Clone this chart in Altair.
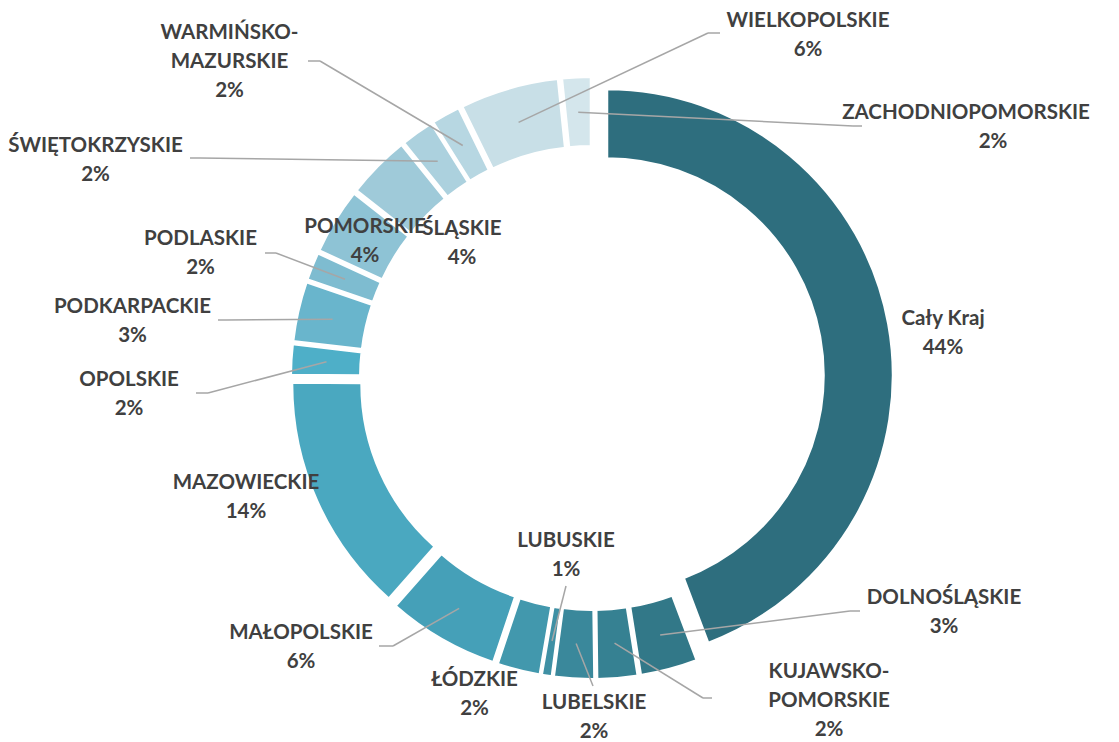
import math
import altair as alt
import pandas as pd

# ---------------- data (clockwise from 12 o'clock) ----------------
names = ["Cały Kraj", "DOLNOŚLĄSKIE", "KUJAWSKO-POMORSKIE", "LUBELSKIE", "LUBUSKIE",
         "ŁÓDZKIE", "MAŁOPOLSKIE", "MAZOWIECKIE", "OPOLSKIE", "PODKARPACKIE",
         "PODLASKIE", "POMORSKIE", "ŚLĄSKIE", "ŚWIĘTOKRZYSKIE", "WARMIŃSKO-MAZURSKIE",
         "WIELKOPOLSKIE", "ZACHODNIOPOMORSKIE"]
shares = [44.25, 3.25, 2.3, 2.3, 0.6, 2.45, 6.35, 13.6, 1.75, 3.4, 1.6, 3.75, 3.6,
          1.9, 1.65, 5.6, 1.65]

# ---------------- styles ----------------
palette = ["#2E6E7E", "#327888", "#368192", "#3A889B", "#3F90A4", "#4298AD", "#45A0B8",
           "#4AA8C0", "#4EAFC8", "#69B5CC", "#7EBCD0", "#8EC3D5", "#9FCAD9", "#ACD1DE",
           "#B7D7E2", "#C8DFE7", "#D4E6EC"]
TEXT_COLOR = "#404040"
LINE_COLOR = "#A6A6A6"
FONT = "Lato"
FONT_SIZE = 20.5
LINE_H = 29

# ---------------- layout (pixels, relative to the pie centre) ----------------
W, H = 1090, 734
CX, CY = 584, 370
R_OUT, R_IN = 286.5, 216.5
EXPLODE = 15
LEAD_R = 266
label_dx = [351, 352, 237, 2, -26, -117.5, -291, -346, -463, -459.5, -391.5, -227, -130,
            -496.5, -362.5, 216, 374]
label_dy = [-45, 234.5, 322.5, 339, 177, 316, 269, 119, 16.5, -57, -125, -137, -135,
            -218, -316, -343, -251]
pct_dx = [0, 0, 0, 0, 0, 0, 0, 0, 0, 0, 0, 0, 0, 0, 0, 0, 27]
# leader lines: elbow and end points (None = no leader line)
elbow = [None, (258, 233), (111, 320), (1, 308), (-26, 208), None, (-199, 268), None,
         (-384, 15), (-366, -58), (-316, -125), None, None, (-392, -220), (-272, -317),
         (116, -345), (261, -252)]
end = [None, (268, 233), (120, 320), (1, 308), (-26, 208), None, (-213, 268), None,
       (-396, 15), (-374, -58), (-327, -125), None, None, (-402, -220), (-284, -317),
       (128, -345), (270, -252)]

# ---------------- tables ----------------
total = sum(shares)
df = pd.DataFrame({
    "name": names,
    "share": shares,
    "order": list(range(len(names))),
    "lead": [e is not None for e in elbow],
    "ex": [CX + e[0] if e else CX for e in elbow],
    "ey": [CY + e[1] if e else CY for e in elbow],
    "nx": [CX + e[0] if e else CX for e in end],
    "ny": [CY + e[1] if e else CY for e in end],
})

rows = []
for i, nm in enumerate(names):
    pct = f"{round(shares[i] / total * 100)}%"
    parts = nm.replace("-", "-\n").split("\n")
    lines = [(p, 0) for p in parts] + [(pct, pct_dx[i])]
    n = len(lines)
    for j, (t, off) in enumerate(lines):
        rows.append({
            "t": t,
            "tx": CX + label_dx[i] + off,
            "ty": CY + label_dy[i] + (j - (n - 1) / 2) * LINE_H,
        })
labels = pd.DataFrame(rows)


def with_angles(ch):
    return ch.transform_window(
        cum="sum(share)", sort=[alt.SortField("order")], frame=[None, 0]
    ).transform_joinaggregate(
        total="sum(share)"
    ).transform_calculate(
        f0="(datum.cum - datum.share) / datum.total",
        f1="datum.cum / datum.total",
        mid="2 * PI * (datum.cum - datum.share / 2) / datum.total",
    ).transform_calculate(
        ax=f"{CX} + {EXPLODE} * sin(datum.mid)",
        ay=f"{CY} - {EXPLODE} * cos(datum.mid)",
        sx=f"{CX} + {LEAD_R} * sin(datum.mid)",
        sy=f"{CY} - {LEAD_R} * cos(datum.mid)",
    )


arcs = with_angles(alt.Chart(df)).mark_arc(
    innerRadius=R_IN, outerRadius=R_OUT, stroke="white", strokeWidth=3
).encode(
    theta=alt.Theta("f0:Q", scale=alt.Scale(domain=[0, 1], range=[0, 2 * math.pi]), stack=None),
    theta2="f1:Q",
    x=alt.X("ax:Q", scale=None),
    y=alt.Y("ay:Q", scale=None),
    color=alt.Color("name:N", scale=alt.Scale(domain=names, range=palette), legend=None),
    order=alt.Order("order:Q"),
)

seg1 = with_angles(alt.Chart(df)).transform_filter("datum.lead").mark_rule(
    color=LINE_COLOR, strokeWidth=1.5
).encode(
    x=alt.X("sx:Q", scale=None), y=alt.Y("sy:Q", scale=None),
    x2="ex:Q", y2="ey:Q",
)

seg2 = alt.Chart(df).transform_filter("datum.lead").mark_rule(
    color=LINE_COLOR, strokeWidth=1.5
).encode(
    x=alt.X("ex:Q", scale=None), y=alt.Y("ey:Q", scale=None),
    x2="nx:Q", y2="ny:Q",
)

text = alt.Chart(labels).mark_text(
    font=FONT, fontWeight="bold", fontSize=FONT_SIZE, color=TEXT_COLOR,
    align="center", baseline="middle"
).encode(
    x=alt.X("tx:Q", scale=None),
    y=alt.Y("ty:Q", scale=None),
    text="t:N",
)

chart = alt.layer(arcs, seg1, seg2, text).properties(
    width=W, height=H, padding=0, autosize=alt.AutoSizeParams(type="none")
).configure_view(stroke=None)

chart.save("out.html", embed_options={"renderer": "svg", "actions": False})
